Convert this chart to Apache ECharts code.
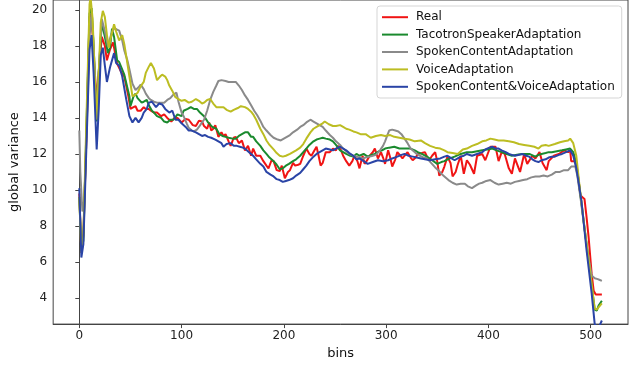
<!DOCTYPE html>
<html>
<head>
<meta charset="utf-8">
<script src="https://cdn.jsdelivr.net/npm/echarts@6/dist/echarts.min.js"></script>
<style>
  html, body { margin: 0; padding: 0; background: #fff; }
  #chart { width: 638px; height: 365px; }
</style>
</head>
<body>
<div id="chart"></div>
<script>
// values as [bin, global variance]
var xTicks = [0, 100, 200, 300, 400, 500];
var yTicks = [4, 6, 8, 10, 12, 14, 16, 18, 20];
var seriesNames = ['Real', 'TacotronSpeakerAdaptation', 'SpokenContentAdaptation', 'VoiceAdaptation', 'SpokenContent&VoiceAdaptation'];

var realData = [[0,9.8],[2,6.5],[4,7.5],[7,13],[10,19.6],[12,19.8],[14,17.5],[17,15.0],[19,16.5],[22,18.5],[25,18.0],[27,17.2],[30,17.8],[33,18.2],[35,17.6],[37,17.0],[41,16.55],[44,16.3],[48,15.2],[50,14.5],[53,14.6],[55,14.65],[57,14.4],[60,14.4],[63,14.6],[65,14.5],[68,14.5],[70,14.4],[73,14.3],[76,14.3],[80,14.1],[83,14.2],[86,14.0],[90,13.8],[93,14.0],[96,14.0],[100,13.75],[104,13.95],[107,13.9],[111,13.6],[114,13.55],[117,13.85],[120,13.8],[122,13.55],[125,13.4],[127,13.75],[129,13.3],[131,13.4],[133,13.6],[136,12.95],[139,13.2],[141,13.0],[143,13.1],[146,12.7],[148,12.45],[151,12.9],[153,12.95],[156,12.6],[159,12.75],[162,12.2],[165,12.45],[168,11.9],[170,12.3],[173,11.9],[177,11.9],[180,11.6],[183,11.35],[185,11.2],[188,11.65],[190,11.6],[193,11.1],[196,11.05],[198,11.35],[201,10.65],[204,11.0],[206,11.1],[209,11.5],[211,11.35],[214,11.4],[216,11.45],[219,11.9],[222,12.3],[225,12.0],[227,11.9],[230,12.2],[232,12.4],[234,11.9],[236,11.35],[238,11.5],[241,12.1],[245,12.1],[248,12.3],[251,12.2],[253,12.45],[256,12.2],[258,11.9],[261,11.6],[264,11.35],[267,11.6],[269,11.9],[272,11.6],[274,11.2],[277,11.9],[279,11.45],[282,11.7],[284,11.9],[287,12.1],[289,12.3],[292,11.75],[295,12.1],[297,11.8],[299,11.45],[302,12.2],[304,11.8],[306,11.3],[309,11.7],[311,12.1],[314,11.9],[316,11.75],[318,11.9],[321,12.1],[324,11.8],[326,11.65],[329,11.8],[331,12.0],[335,12.05],[338,12.1],[340,11.85],[342,11.65],[345,11.9],[348,12.1],[350,11.6],[352,10.8],[355,11.0],[357,11.3],[360,11.85],[363,11.5],[365,10.75],[368,11.0],[370,11.4],[373,11.9],[376,10.9],[379,11.65],[382,11.4],[386,10.9],[389,11.9],[394,12.0],[397,11.65],[402,12.4],[407,12.4],[410,11.6],[413,12.1],[416,12.0],[420,11.2],[423,10.9],[426,11.75],[429,11.3],[431,11.0],[435,12.0],[438,11.45],[443,11.9],[446,11.75],[450,12.1],[453,11.5],[457,11.1],[459,11.6],[464,11.9],[469,12.0],[474,12.2],[478,12.1],[480,12.2],[481,11.6],[485,11.6],[488,10.65],[490,9.7],[492,9.6],[494,9.5],[496,8.5],[498,7.4],[501,5.35],[503,4.4],[505,4.2],[511,4.2]];

var tacotronData = [[0,9.6],[2,6.6],[4,7.2],[7,13.5],[10,19.8],[12,20.1],[14,18.0],[17,13.8],[19,16.5],[22,19.3],[25,18.5],[28,17.6],[30,17.9],[32,18.96],[34,18.5],[37,17.2],[39,17.1],[44,16.4],[49,15.2],[50,14.65],[53,15.2],[55,15.35],[57,15.1],[61,14.85],[63,14.9],[66,15.0],[68,14.7],[71,14.4],[73,14.3],[76,14.1],[80,14.0],[83,13.8],[86,13.75],[89,13.9],[92,13.9],[96,14.2],[100,14.1],[102,14.4],[106,14.5],[109,14.6],[112,14.5],[115,14.5],[118,14.3],[122,14.1],[126,13.75],[130,13.5],[134,13.4],[137,13.1],[140,13.0],[143,12.95],[146,12.9],[150,12.85],[153,12.85],[156,13.0],[159,13.1],[162,13.2],[165,13.2],[168,12.95],[170,12.95],[173,12.7],[177,12.45],[180,12.2],[183,12.0],[186,11.8],[190,11.6],[193,11.4],[196,11.15],[199,11.2],[202,11.35],[205,11.45],[209,11.6],[212,11.7],[216,11.9],[219,12.1],[222,12.3],[225,12.5],[229,12.7],[232,12.8],[235,12.85],[238,12.9],[241,12.85],[245,12.8],[248,12.7],[251,12.5],[255,12.2],[258,12.1],[261,12.0],[265,11.9],[268,11.85],[271,12.0],[274,11.9],[278,12.0],[282,11.85],[286,11.95],[289,12.0],[293,12.15],[296,12.2],[299,12.3],[303,12.35],[308,12.4],[313,12.3],[318,12.3],[324,12.3],[328,12.2],[331,12.1],[335,12.0],[340,11.85],[345,11.65],[350,11.45],[354,11.55],[357,11.6],[362,11.75],[367,11.85],[373,12.0],[379,12.1],[384,12.1],[389,12.15],[394,12.2],[399,12.25],[404,12.3],[408,12.2],[413,12.1],[418,12.0],[423,11.9],[428,11.95],[433,12.0],[437,12.0],[440,12.0],[446,11.85],[449,11.95],[452,12.0],[456,12.05],[459,12.1],[462,12.1],[467,12.15],[472,12.2],[476,12.25],[480,12.3],[483,12.1],[486,11.5],[489,10.2],[494,7.9],[499,5.6],[504,3.35],[506,3.3],[508,3.6],[511,3.85]];

var spokenData = [[0,13.3],[1,11.0],[3,8.8],[5,9.5],[7,13],[10,18.5],[12,19.8],[14,18.0],[17,14.0],[19,16.5],[22,19.5],[25,18.8],[28,18.0],[31,18.6],[34,19.0],[37,18.9],[39,18.85],[42,18.3],[44,17.75],[47,17.2],[49,16.7],[52,15.9],[55,15.55],[58,15.7],[60,15.85],[63,15.6],[65,15.35],[68,15.1],[70,15.0],[73,14.9],[76,14.85],[80,14.85],[83,14.85],[86,15.0],[89,15.1],[92,15.3],[95,15.4],[97,14.9],[100,14.3],[102,14.1],[105,13.7],[107,13.45],[110,13.3],[112,13.25],[115,13.35],[117,13.5],[120,13.75],[122,13.9],[125,14.4],[128,15.0],[131,15.45],[134,15.8],[136,16.05],[139,16.1],[143,16.05],[146,16.0],[150,16.0],[153,16.0],[156,15.8],[159,15.55],[162,15.25],[165,15.0],[168,14.7],[171,14.4],[174,14.15],[177,13.85],[180,13.5],[183,13.3],[187,13.05],[190,12.9],[194,12.8],[197,12.75],[200,12.85],[203,12.95],[206,13.05],[209,13.2],[213,13.35],[216,13.5],[219,13.6],[222,13.75],[226,13.9],[229,13.8],[232,13.7],[235,13.6],[238,13.5],[241,13.3],[245,13.05],[248,12.9],[251,12.7],[255,12.5],[258,12.3],[261,12.15],[264,12.0],[268,11.9],[271,11.85],[274,11.8],[277,11.75],[280,11.8],[284,11.85],[287,11.9],[290,11.95],[294,12.2],[297,12.45],[299,12.7],[301,13.0],[303,13.3],[306,13.35],[309,13.3],[312,13.25],[315,13.1],[318,12.85],[321,12.6],[324,12.3],[327,12.15],[330,12.0],[333,11.9],[337,11.8],[340,11.75],[344,11.5],[348,11.25],[351,11.1],[354,10.9],[357,10.75],[361,10.55],[365,10.4],[369,10.3],[373,10.35],[377,10.35],[380,10.2],[384,10.1],[388,10.25],[391,10.35],[394,10.4],[398,10.5],[402,10.55],[406,10.4],[410,10.3],[414,10.35],[418,10.4],[422,10.35],[426,10.45],[430,10.5],[434,10.55],[438,10.6],[442,10.7],[446,10.75],[450,10.75],[454,10.8],[458,10.75],[462,10.85],[466,11.0],[470,11.0],[474,11.1],[478,11.1],[481,11.3],[485,11.3],[487,10.8],[490,9.6],[493,8.3],[496,7.0],[499,5.9],[501,5.25],[504,5.1],[507,5.05],[509,5.0],[511,4.95]];

var voiceData = [[0,9.6],[2,6.5],[4,7.5],[7,14],[10,20.3],[11,20.7],[13,19.5],[15,16.5],[17,13.9],[19,16.5],[21,19.3],[23,19.95],[25,19.6],[27,18.6],[29,17.9],[31,18.5],[34,19.2],[36,18.8],[39,18.3],[42,18.6],[44,18.1],[46,17.4],[49,16.3],[52,15.2],[55,15.3],[57,15.4],[60,15.75],[63,16.0],[65,16.5],[68,16.85],[70,17.05],[73,16.75],[76,16.1],[79,16.3],[81,16.4],[84,16.3],[86,16.1],[88,15.8],[91,15.5],[94,15.15],[97,15.05],[100,14.95],[103,15.0],[107,14.85],[110,14.9],[114,15.05],[117,14.95],[120,14.8],[122,14.85],[125,15.0],[128,15.05],[131,14.8],[134,14.6],[137,14.6],[141,14.6],[144,14.45],[148,14.35],[151,14.45],[155,14.55],[158,14.65],[162,14.6],[165,14.5],[168,14.35],[170,14.2],[173,13.9],[177,13.4],[180,13.1],[183,12.75],[186,12.5],[190,12.25],[193,12.05],[196,11.9],[199,11.85],[202,11.9],[206,12.0],[209,12.1],[212,12.2],[216,12.35],[219,12.55],[222,12.85],[226,13.2],[229,13.4],[232,13.5],[235,13.6],[238,13.7],[240,13.8],[244,13.65],[248,13.55],[251,13.55],[255,13.6],[258,13.5],[261,13.4],[264,13.35],[268,13.25],[271,13.2],[275,13.1],[280,13.1],[285,12.9],[290,13.0],[295,13.05],[299,13.0],[304,13.05],[308,12.95],[313,12.9],[318,12.85],[323,12.8],[328,12.7],[334,12.75],[338,12.6],[343,12.45],[348,12.35],[353,12.3],[357,12.2],[360,12.1],[365,12.05],[370,12.0],[375,12.25],[379,12.3],[384,12.45],[389,12.55],[394,12.7],[398,12.75],[402,12.85],[406,12.8],[410,12.75],[415,12.75],[420,12.7],[425,12.65],[430,12.55],[435,12.5],[440,12.45],[445,12.4],[449,12.3],[452,12.45],[456,12.5],[459,12.45],[465,12.55],[470,12.65],[474,12.7],[478,12.75],[480,12.85],[483,12.6],[486,11.9],[489,10.3],[494,7.9],[499,5.7],[504,3.4],[506,3.35],[508,3.5],[511,3.7]];

var bothData = [[0,10.1],[2,6.25],[4,7.0],[7,12.5],[10,17.8],[12,18.6],[14,16.5],[17,12.25],[19,14.5],[21,17.5],[23,17.9],[25,16.9],[27,16.0],[30,16.8],[34,17.6],[36,17.05],[39,16.9],[42,16.3],[46,15.0],[49,14.1],[52,13.75],[55,14.0],[58,13.75],[61,14.0],[63,14.3],[66,14.5],[68,14.85],[71,14.9],[75,14.6],[78,14.8],[81,14.75],[84,14.5],[88,14.3],[91,14.4],[94,13.9],[97,13.9],[100,13.7],[104,13.5],[107,13.3],[110,13.3],[114,13.2],[117,13.1],[120,13.0],[123,13.05],[126,12.95],[129,12.9],[133,12.8],[136,12.7],[139,12.6],[141,12.4],[144,12.55],[148,12.6],[151,12.45],[154,12.45],[157,12.4],[160,12.35],[163,12.25],[166,12.1],[170,11.9],[173,11.7],[177,11.45],[180,11.3],[183,11.0],[187,10.85],[190,10.75],[193,10.6],[196,10.55],[199,10.45],[202,10.5],[205,10.55],[209,10.65],[212,10.8],[216,10.95],[219,11.15],[222,11.35],[225,11.6],[229,11.85],[232,12.0],[235,12.1],[238,12.2],[241,12.3],[245,12.25],[248,12.2],[251,12.3],[255,12.4],[258,12.3],[261,12.2],[264,12.05],[268,11.9],[271,11.7],[274,11.75],[278,11.6],[282,11.45],[287,11.55],[292,11.65],[297,11.6],[302,11.65],[306,11.75],[311,11.85],[315,11.95],[318,12.0],[322,11.9],[326,11.85],[330,11.8],[334,11.75],[338,11.7],[343,11.65],[348,11.7],[353,11.75],[357,11.85],[360,11.9],[364,11.75],[367,11.65],[370,11.75],[373,11.85],[376,11.9],[379,12.0],[384,11.9],[389,12.0],[394,12.1],[397,12.25],[401,12.35],[404,12.4],[407,12.3],[410,12.3],[413,12.2],[417,12.1],[420,12.0],[423,11.95],[426,11.9],[430,11.95],[433,12.0],[437,11.9],[440,11.85],[443,11.7],[446,11.6],[449,11.55],[452,11.65],[456,11.7],[459,11.8],[462,11.85],[465,11.85],[469,11.95],[472,12.0],[476,12.1],[480,12.2],[483,11.9],[486,11.2],[488,10.5],[491,9.4],[496,6.67],[501,4.27],[504,2.55],[507,2.35],[509,2.5],[511,2.75]];

var seriesColors = ['#f01414', '#1a8a2e', '#8a8a8a', '#bcbd22', '#2a44a6'];
var seriesData = [realData, tacotronData, spokenData, voiceData, bothData];

var font = 'DejaVu Sans';
var chart = echarts.init(document.getElementById('chart'));

var option = {
    animation: false,
    textStyle: { fontFamily: font },
    grid: {
        left: 49, right: 10, top: 0, bottom: 36,
        show: true, borderColor: '#444', borderWidth: 1
    },
    legend: {
        data: seriesNames,
        orient: 'vertical',
        left: 377, top: 6,
        padding: [4, 7, 4, 5],
        icon: 'rect',
        itemWidth: 26, itemHeight: 2, itemGap: 3,
        backgroundColor: 'rgba(255,255,255,0.85)',
        borderColor: '#d5d5d5', borderWidth: 1, borderRadius: 3,
        textStyle: { fontFamily: font, fontSize: 12, lineHeight: 14.4, color: '#111', padding: [0, 0, 0, 3] }
    },
    xAxis: {
        type: 'value',
        min: -25.55, max: 536.55,
        name: 'bins', nameLocation: 'middle', nameGap: 22,
        nameTextStyle: { fontFamily: font, fontSize: 13, color: '#111' },
        axisLine: { show: true, lineStyle: { color: '#444' } },
        axisTick: { show: true, length: 4, customValues: xTicks, lineStyle: { color: '#444' } },
        axisLabel: { customValues: xTicks, fontFamily: font, fontSize: 12, color: '#222', margin: 6 },
        splitLine: { show: false }
    },
    yAxis: {
        type: 'value',
        min: 2.55, max: 20.55,
        name: 'global variance', nameLocation: 'middle', nameGap: 20, nameRotate: 90,
        nameTextStyle: { fontFamily: font, fontSize: 13, color: '#111' },
        axisLine: { show: true, lineStyle: { color: '#444' } },
        axisTick: { show: true, length: 4, customValues: yTicks, lineStyle: { color: '#444' } },
        axisLabel: { customValues: yTicks, fontFamily: font, fontSize: 12, color: '#222', margin: 6 },
        splitLine: { show: false }
    },
    series: seriesNames.map(function (name, i) {
        return {
            name: name,
            type: 'line',
            data: seriesData[i],
            symbol: 'none',
            smooth: false,
            clip: true,
            lineStyle: { width: 2, color: seriesColors[i] },
            itemStyle: { color: seriesColors[i] }
        };
    })
};

chart.setOption(option);
</script>
</body>
</html>
